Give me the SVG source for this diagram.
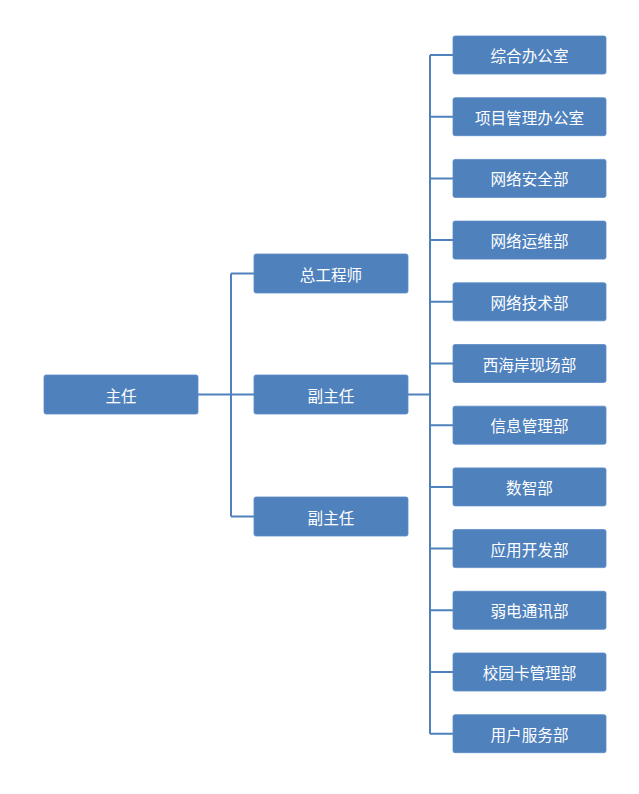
<svg xmlns="http://www.w3.org/2000/svg" width="639" height="794" viewBox="0 0 639 794">
<style>
.box{fill:#4F81BD;stroke:#5A8AC6;stroke-width:0.8}
.lbl{fill:#FFFFFF;font-family:"Noto Sans CJK SC","Noto Sans",sans-serif;font-size:15.6px;text-anchor:middle;dominant-baseline:central}
.ln{fill:none;stroke:#4F81BD;stroke-width:2}
</style>
<rect width="639" height="794" fill="#FFFFFF"/>
<g id="connectors">
<path class="ln" d="M198 394.5H254M231 273.5V516.5M231 273.5H254M231 516.5H254"/>
<path class="ln" d="M408 394.5H430M430 55V734M430 55H453M430 116.7H453M430 178.4H453M430 240.1H453M430 301.8H453M430 363.5H453M430 425.2H453M430 486.9H453M430 548.6H453M430 610.3H453M430 672H453M430 733.7H453"/>
</g>
<g id="n-zhuren"><rect class="box" x="44" y="375" width="154" height="39" rx="2"/><text class="lbl" x="121" y="394.5">主任</text></g>
<g id="n-zonggong"><rect class="box" x="254" y="254" width="154" height="39" rx="2"/><text class="lbl" x="331" y="273.5">总工程师</text></g>
<g id="n-fuzhuren1"><rect class="box" x="254" y="375" width="154" height="39" rx="2"/><text class="lbl" x="331" y="394.5">副主任</text></g>
<g id="n-fuzhuren2"><rect class="box" x="254" y="497" width="154" height="39" rx="2"/><text class="lbl" x="331" y="516.5">副主任</text></g>
<g id="d1"><rect class="box" x="453" y="36" width="153" height="38" rx="2"/><text class="lbl" x="529.5" y="55">综合办公室</text></g>
<g id="d2"><rect class="box" x="453" y="97.7" width="153" height="38" rx="2"/><text class="lbl" x="529.5" y="116.7">项目管理办公室</text></g>
<g id="d3"><rect class="box" x="453" y="159.4" width="153" height="38" rx="2"/><text class="lbl" x="529.5" y="178.4">网络安全部</text></g>
<g id="d4"><rect class="box" x="453" y="221.1" width="153" height="38" rx="2"/><text class="lbl" x="529.5" y="240.1">网络运维部</text></g>
<g id="d5"><rect class="box" x="453" y="282.8" width="153" height="38" rx="2"/><text class="lbl" x="529.5" y="301.8">网络技术部</text></g>
<g id="d6"><rect class="box" x="453" y="344.5" width="153" height="38" rx="2"/><text class="lbl" x="529.5" y="363.5">西海岸现场部</text></g>
<g id="d7"><rect class="box" x="453" y="406.2" width="153" height="38" rx="2"/><text class="lbl" x="529.5" y="425.2">信息管理部</text></g>
<g id="d8"><rect class="box" x="453" y="467.9" width="153" height="38" rx="2"/><text class="lbl" x="529.5" y="486.9">数智部</text></g>
<g id="d9"><rect class="box" x="453" y="529.6" width="153" height="38" rx="2"/><text class="lbl" x="529.5" y="548.6">应用开发部</text></g>
<g id="d10"><rect class="box" x="453" y="591.3" width="153" height="38" rx="2"/><text class="lbl" x="529.5" y="610.3">弱电通讯部</text></g>
<g id="d11"><rect class="box" x="453" y="653" width="153" height="38" rx="2"/><text class="lbl" x="529.5" y="672">校园卡管理部</text></g>
<g id="d12"><rect class="box" x="453" y="714.7" width="153" height="38" rx="2"/><text class="lbl" x="529.5" y="733.7">用户服务部</text></g>
</svg>
